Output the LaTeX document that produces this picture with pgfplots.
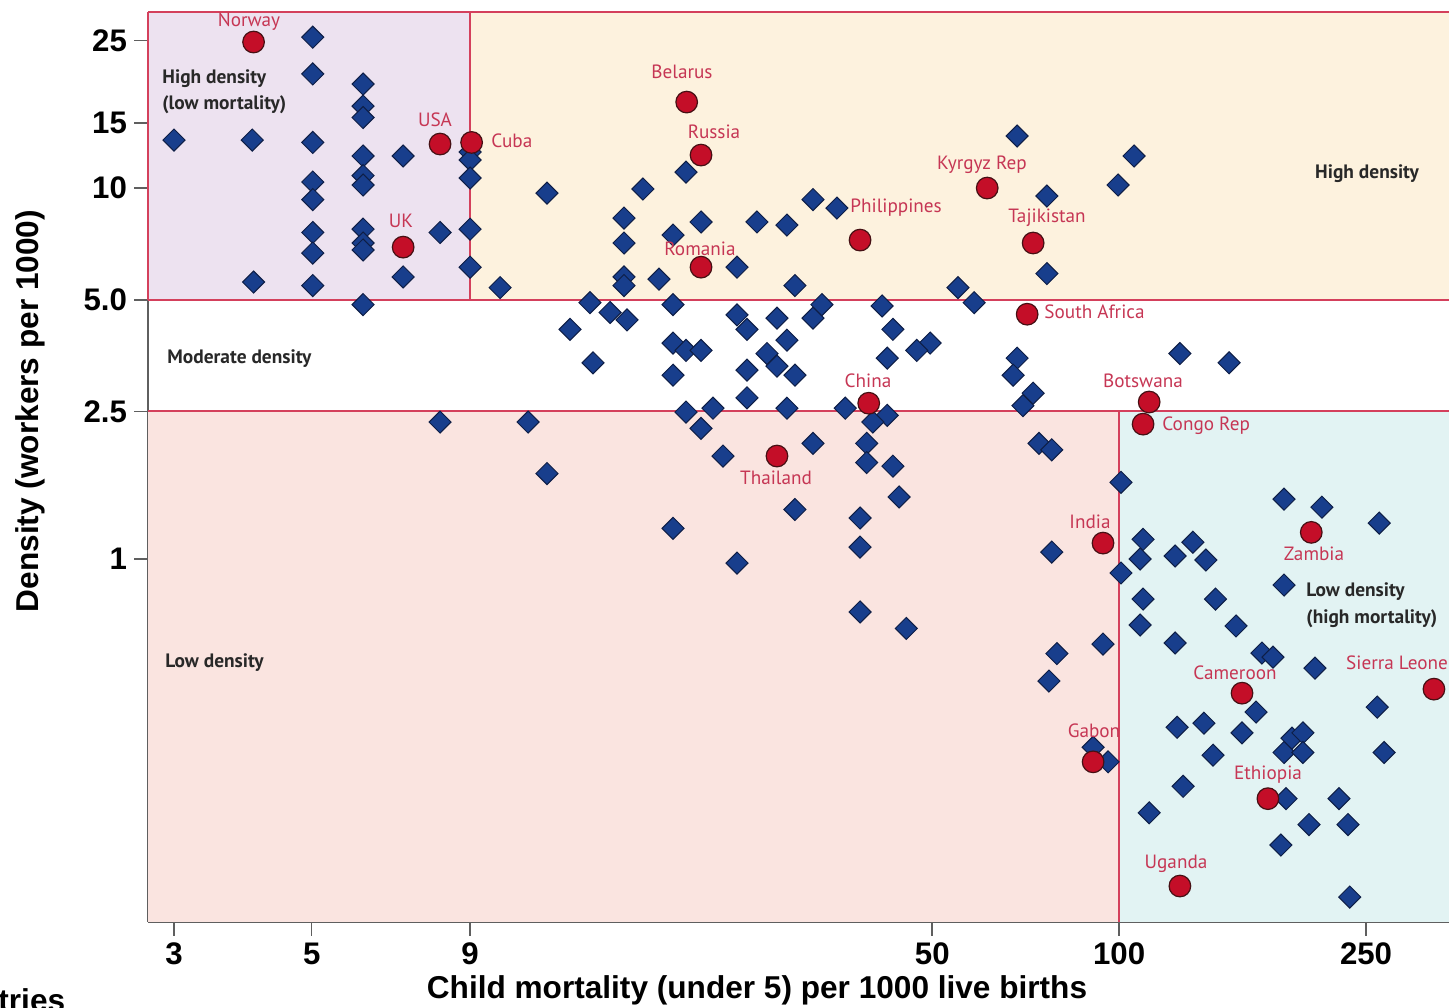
\documentclass[border=0pt]{standalone}
\usepackage{fontspec}
\setmainfont{Liberation Sans}
\newfontfamily\lab{PT Sans}
\usepackage{pgfplots}
\pgfplotsset{compat=1.18}
\definecolor{lav}{RGB}{237,226,240}
\definecolor{yel}{RGB}{253,242,222}
\definecolor{pnk}{RGB}{250,228,224}
\definecolor{cya}{RGB}{226,243,243}
\definecolor{bord}{RGB}{212,64,92}
\definecolor{axgray}{RGB}{95,95,95}
\definecolor{dblue}{RGB}{24,62,140}
\definecolor{dnavy}{RGB}{14,30,70}
\definecolor{cred}{RGB}{196,14,40}
\definecolor{cdark}{RGB}{70,16,20}
\definecolor{labred}{RGB}{198,54,84}
\definecolor{regtxt}{RGB}{40,40,40}

\pgfplotstableread{
x y
3.00 13.47
4.01 13.47
4.03 5.58
5.02 25.5
5.02 20.3
5.02 13.27
5.02 10.38
5.02 9.31
5.02 7.59
5.02 6.68
5.02 5.46
6.05 19.07
6.05 16.63
6.05 15.49
6.05 12.2
6.05 10.8
6.05 10.19
6.05 7.75
6.05 7.11
6.05 6.81
6.05 4.85
7.02 12.2
7.02 5.76
8.05 7.59
9.00 12.5
9.00 11.9
9.00 10.64
9.00 7.75
9.00 6.12
10.06 5.39
11.97 9.69
17.09 9.94
20.05 11.04
15.93 8.30
15.93 7.11
19.11 7.47
21.2 8.10
26.09 8.10
29.16 7.95
32.12 9.31
35.1 8.83
15.93 5.76
15.93 5.46
18.14 5.68
24.23 6.12
30.04 5.46
55.0 5.39
58.4 4.91
68.5 13.81
105.7 12.2
99.6 10.19
76.5 9.515
76.5 5.88
14.04 4.91
15.13 4.62
16.11 4.41
13.04 4.16
19.11 4.85
24.23 4.55
25.14 4.16
28.1 4.46
32.12 4.46
33.2 4.85
29.16 3.89
41.5 4.81
43.2 4.16
49.6 3.82
47.2 3.65
42.3 3.48
19.11 3.82
20.05 3.65
21.2 3.65
14.2 3.38
27.08 3.58
28.1 3.31
25.14 3.23
30.04 3.13
19.11 3.13
25.14 2.72
29.16 2.55
20.05 2.49
22.16 2.55
36.2 2.55
42.3 2.44
40.1 2.34
11.16 2.34
8.05 2.34
21.2 2.25
32.12 2.05
39.2 2.05
39.2 1.82
43.2 1.78
23.0 1.895
11.97 1.70
44.2 1.47
30.04 1.36
38.25 1.29
19.11 1.21
38.25 1.077
77.9 1.044
24.23 0.975
38.25 0.720
45.4 0.650
79.4 0.556
94.2 0.590
77.1 0.469
100.7 1.61
68.5 3.48
67.5 3.13
72.7 2.80
70.0 2.59
125.3 3.58
150.4 3.38
74.3 2.05
77.9 1.97
184.4 1.45
212.2 1.38
262.5 1.25
109.3 1.13
108.1 1.0
131.5 1.11
123.1 1.019
138.0 0.994
100.7 0.917
184.4 0.851
109.3 0.780
143.0 0.780
108.1 0.664
154.3 0.660
123.1 0.594
169.9 0.558
177.0 0.544
206.8 0.508
166.2 0.387
260.5 0.399
124.0 0.352
137.0 0.361
157.8 0.340
90.8 0.311
96.0 0.284
141.7 0.296
189.9 0.329
197.8 0.340
184.4 0.301
197.8 0.301
267.3 0.301
126.8 0.244
185.8 0.226
226.1 0.226
111.8 0.207
202.3 0.1925
233.8 0.1925
182.3 0.1695
235.3 0.1227
}\others

\pgfplotstableread{
x y
4.03 24.75
8.05 13.14
9.05 13.27
7.02 6.93
20.1 17.05
21.2 12.27
21.2 6.12
38.25 7.24
61.3 10.0
72.7 7.11
71.1 4.57
39.5 2.63
28.1 1.895
111.8 2.65
109.3 2.31
94.2 1.104
204.0 1.18
157.8 0.435
321.6 0.446
90.8 0.284
173.7 0.226
125.3 0.1314
}\named

\begin{document}
\begin{tikzpicture}
\begin{axis}[
  at={(74pt,-461pt)}, anchor=south west,
  scale only axis, width=650.5pt, height=455pt,
  xmode=log, ymode=log,
  xmin=2.724, xmax=340.1, ymin=0.1051, ymax=29.82,
  axis lines*=left,
  axis line style={draw=axgray, line width=1pt},
  xtick={3,5,9,50,100,250}, xticklabels={3,5,9,50,100,250},
  ytick={1,2.5,5,10,15,25}, yticklabels={1,2.5,5.0,10,15,25},
  xminorticks=false, yminorticks=false,
  tick align=outside, major tick length=7pt,
  tick style={draw=axgray, line width=0.8pt},
  ticklabel style={font=\bfseries\fontsize{15.6}{18}\selectfont, text=black},
  clip=false,
]
\fill[lav] (axis cs:2.724,5) rectangle (axis cs:9,29.82);
\fill[yel] (axis cs:9,5) rectangle (axis cs:340.1,29.82);
\fill[pnk] (axis cs:2.724,0.1051) rectangle (axis cs:100,2.5);
\fill[cya] (axis cs:100,0.1051) rectangle (axis cs:340.1,2.5);
\draw[bord, line width=1pt] (axis cs:2.724,29.82) -- (axis cs:340.1,29.82);
\draw[bord, line width=1pt] (axis cs:2.724,5) -- (axis cs:340.1,5);
\draw[bord, line width=1pt] (axis cs:2.724,2.5) -- (axis cs:340.1,2.5);
\draw[bord, line width=1pt] (axis cs:9,5) -- (axis cs:9,29.82);
\draw[bord, line width=1pt] (axis cs:100,0.1051) -- (axis cs:100,2.5);
\draw[bord, line width=1pt] (axis cs:2.724,5) -- (axis cs:2.724,29.82);
\addplot[only marks, mark=square*, mark size=3.9pt,
  mark options={rotate=45, fill=dblue, draw=dnavy, line width=0.5pt}] table {\others};
\addplot[only marks, mark=*, mark size=5.4pt,
  mark options={fill=cred, draw=cdark, line width=0.6pt}] table {\named};
\end{axis}

\begin{scope}[x=0.5pt, y=-0.5pt, every node/.style={inner sep=0pt}]
\begin{scope}[every node/.append style={font=\lab\fontsize{9.6}{11}\selectfont, text=labred}]
\node at (249,22) {Norway};
\node at (435,120) {USA};
\node[anchor=west] at (491,141) {Cuba};
\node at (401,221) {UK};
\node at (682,72) {Belarus};
\node at (714,132) {Russia};
\node at (700,249) {Romania};
\node[anchor=west] at (850,208) {Philippines};
\node at (982,165) {Kyrgyz Rep};
\node at (1047,218) {Tajikistan};
\node[anchor=west] at (1044,312) {South Africa};
\node at (868,381) {China};
\node at (776,478) {Thailand};
\node at (1143,381) {Botswana};
\node[anchor=west] at (1162,426) {Congo Rep};
\node at (1090,522) {India};
\node at (1314,554) {Zambia};
\node at (1235,673) {Cameroon};
\node at (1397,663) {Sierra Leone};
\node at (1094,731) {Gabon};
\node at (1268,775) {Ethiopia};
\node at (1176,864) {Uganda};
\end{scope}
\begin{scope}[every node/.append style={font=\lab\bfseries\fontsize{9.7}{11}\selectfont, text=regtxt}]
\node[anchor=west] at (162,79) {High density};
\node[anchor=west] at (162,105) {(low mortality)};
\node at (1367,174) {High density};
\node[anchor=west] at (167,359) {Moderate density};
\node[anchor=west] at (165,663) {Low density};
\node[anchor=west] at (1306,592) {Low density};
\node[anchor=west] at (1306,619) {(high mortality)};
\end{scope}
\node[font=\bfseries\fontsize{15.8}{18}\selectfont] at (757,990) {Child mortality (under 5) per 1000 live births};
\node[font=\bfseries\fontsize{15.8}{18}\selectfont, rotate=90] at (30,411) {Density (workers per 1000)};
\node[font=\bfseries\fontsize{15.8}{18}\selectfont, anchor=base west] at (-2,1011) {tries};
\end{scope}
\pgfresetboundingbox
\path[use as bounding box] (0,0) rectangle (724.5pt,-503.5pt);
\end{tikzpicture}
\end{document}
